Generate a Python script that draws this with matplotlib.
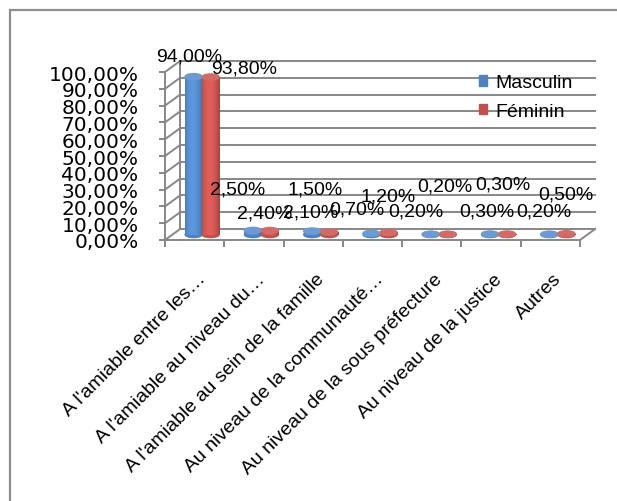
import numpy as np
import matplotlib.pyplot as plt
from matplotlib.patches import Ellipse, Rectangle, Patch

plt.rcParams['font.family'] = ['Liberation Sans', 'DejaVu Sans']

categories = ["A l'amiable entre les…", "A l'amiable au niveau du…",
              "A l'amiable au sein de la famille", "Au niveau de la communauté…",
              "Au niveau de la sous préfecture", "Au niveau de la justice", "Autres"]
masculin = [94.0, 2.5, 2.1, 0.7, 0.2, 0.3, 0.2]
feminin = [93.8, 2.4, 1.5, 1.2, 0.2, 0.3, 0.5]
series_names = ['Masculin', 'Féminin']
yticks = np.arange(0, 101, 10)

# label offsets (pixels) from the top of each cylinder, as Excel placed them
off_m = [(-4, 21), (-15, 41), (-2, 19), (-15, 24), (-15, 23), (-3, 23), (-5, 23)]
off_f = [(33, 9), (-5, 18), (-14, 43), (0, 37), (-3, 48), (-4, 50), (0, 40)]

fig = plt.figure(figsize=(6.17, 5.02), dpi=100)
ax = fig.add_axes([165 / 617, 261 / 502, 415 / 617, 168 / 502])
n = len(categories)

# 3d depth offsets in data units
dx_back, dy_back = 0.253, 6.5
dx_mid, dy_mid = dx_back / 2, dy_back / 2
grid_col = '#878787'

# back wall gridlines and side-wall connectors
for v in yticks:
    ax.plot([dx_back, n + dx_back], [v + dy_back, v + dy_back], color=grid_col, lw=1.4, clip_on=False, zorder=1)
    ax.plot([0, dx_back], [v, v + dy_back], color=grid_col, lw=1.4, clip_on=False, zorder=1)
ax.plot([dx_back, dx_back], [dy_back, 100 + dy_back], color=grid_col, lw=1.4, clip_on=False, zorder=1)
# floor
ax.plot([n, n + dx_back], [0, dy_back], color=grid_col, lw=1.4, clip_on=False, zorder=1)


def shade(base, n_px=40):
    base = np.array(plt.matplotlib.colors.to_rgb(base))
    t = np.linspace(-1, 1, n_px)
    k = 1 - 0.45 * (t + 0.15) ** 2
    light = np.clip(base[None, :] * (0.62 + 0.55 * k[:, None]), 0, 1)
    return light[np.newaxis, :, :]


def cylinder(xc, val, w, color, top_color):
    eh = 3.6
    ax.add_patch(Ellipse((xc, dy_mid), w, eh, color=color, zorder=2, clip_on=False))
    im = ax.imshow(shade(color), extent=(xc - w / 2, xc + w / 2, dy_mid, dy_mid + val),
                   aspect='auto', interpolation='bilinear', zorder=3)
    im.set_clip_on(False)
    ax.add_patch(Ellipse((xc, dy_mid + val), w, eh, color=top_color, zorder=4, clip_on=False))


w = 0.287
blue, blue_top = '#4F81BD', '#6E9AD2'
red, red_top = '#C0504D', '#D16B68'
for i in range(n):
    c = i + 0.5 + dx_mid
    cylinder(c - w / 2, masculin[i], w, blue, blue_top)
    cylinder(c + w / 2, feminin[i], w, red, red_top)
    for val, xc, off in [(masculin[i], c - w / 2, off_m[i]), (feminin[i], c + w / 2, off_f[i])]:
        ax.annotate(f'{val:.2f}%'.replace('.', ','), (xc, val + dy_mid), xytext=off,
                    textcoords='offset pixels', ha='center', va='center', fontsize=14, zorder=6)

ax.set_xlim(0, n)
ax.set_ylim(0, 100)
for s in ['top', 'right']:
    ax.spines[s].set_visible(False)
for s in ['left', 'bottom']:
    ax.spines[s].set_color(grid_col)
    ax.spines[s].set_linewidth(1.4)
ax.set_yticks(yticks)
ax.set_yticklabels([f'{v:.2f}%'.replace('.', ',') for v in yticks], fontsize=14.5, family='DejaVu Sans')
ax.set_xticks(np.arange(n + 1))
ax.set_xticklabels([])
ax.tick_params(axis='y', length=4, width=1.4, color=grid_col, pad=15)
ax.tick_params(axis='x', length=5, width=1.4, color=grid_col)
ax.patch.set_visible(False)

for i, lab in enumerate(categories):
    ax.annotate(lab, (i + 0.5, 0), xytext=(2, -30), textcoords='offset pixels',
                rotation=45, rotation_mode='anchor', ha='right', va='top', fontsize=14)

handles = [Patch(color=blue), Patch(color=red)]
fig.legend(handles, series_names, loc='upper left', bbox_to_anchor=(461 / 617, 1 - 58 / 502),
           frameon=False, fontsize=14, handlelength=0.45, handleheight=0.45,
           handletextpad=0.4, labelspacing=0.6)

fig.add_artist(Rectangle((10 / 617, -0.05), 1.0, 1.05 - 11 / 502, transform=fig.transFigure,
                         fill=False, edgecolor='#8f8f8f', lw=1.6))

fig.savefig('out.png', dpi=100)
